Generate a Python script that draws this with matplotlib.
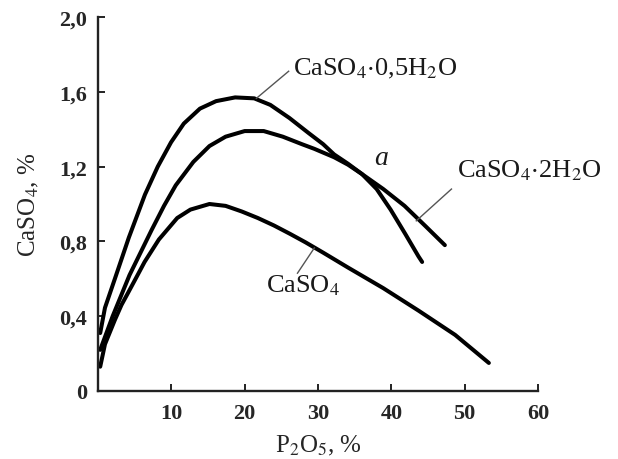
import matplotlib
matplotlib.use("Agg")
import matplotlib.pyplot as plt

# ---- data ----
hemi_x = [0.3, 0.95, 2.3, 4.2, 6.4, 8.15, 9.96, 11.7, 13.9, 16.1, 18.7, 21.3, 23.5, 26.1, 28.7,
          30.7, 32.2, 34.1, 36.0, 38.0, 39.9, 41.9, 43.7, 44.2]
hemi_y = [0.31, 0.445, 0.60, 0.82, 1.05, 1.20, 1.33, 1.43, 1.51, 1.55, 1.57, 1.565, 1.53, 1.46, 1.38,
          1.32, 1.265, 1.215, 1.16, 1.08, 0.97, 0.84, 0.72, 0.69]

dihyd_x = [0.3, 2.0, 4.3, 7.3, 9.0, 10.6, 13.0, 15.2, 17.4, 20.0, 22.6, 25.2, 27.8, 29.5, 32.2,
           34.1, 36.0, 38.9, 41.8, 44.7, 47.3]
dihyd_y = [0.22, 0.40, 0.62, 0.86, 0.99, 1.10, 1.225, 1.31, 1.36, 1.39, 1.39, 1.36, 1.32, 1.295, 1.25,
           1.21, 1.16, 1.08, 0.99, 0.88, 0.78]

anhyd_x = [0.3, 0.95, 2.3, 3.2, 4.1, 5.4, 6.35, 8.3, 10.8, 12.6, 15.2, 17.4, 19.6, 21.8, 24.0,
           26.2, 28.3, 30.7, 34.1, 38.9, 43.7, 48.7, 53.3]
anhyd_y = [0.13, 0.25, 0.38, 0.46, 0.525, 0.62, 0.69, 0.81, 0.925, 0.97, 1.00, 0.99, 0.96, 0.925, 0.885,
           0.84, 0.795, 0.74, 0.66, 0.55, 0.43, 0.30, 0.15]

x_ticks = [10, 20, 30, 40, 50, 60]
x_ticklabels = ["10", "20", "30", "40", "50", "60"]
y_ticks = [0, 0.4, 0.8, 1.2, 1.6, 2.0]
y_ticklabels = ["0", "0,4", "0,8", "1,2", "1,6", "2,0"]

plt.rcParams['font.family'] = ['Liberation Serif', 'DejaVu Serif']
plt.rcParams['mathtext.fontset'] = 'stix'

W, H = 618, 460
fig = plt.figure(figsize=(W / 100, H / 100), dpi=100)
ax = fig.add_axes([98 / W, 1 - 392 / H, (538 - 98) / W, (392 - 18) / H])

lw = 2.9
for xs, ys in [(hemi_x, hemi_y), (dihyd_x, dihyd_y), (anhyd_x, anhyd_y)]:
    ax.plot(xs, ys, color='black', lw=lw, solid_capstyle='round', solid_joinstyle='round')

ax.set_xlim(0, 60)
ax.set_ylim(0, 2.0)
ax.set_xticks(x_ticks)
ax.set_xticklabels(x_ticklabels)
ax.set_yticks(y_ticks)
ax.set_yticklabels(y_ticklabels)
for s in ['top', 'right']:
    ax.spines[s].set_visible(False)
for s in ['left', 'bottom']:
    ax.spines[s].set_linewidth(1.7)
    ax.spines[s].set_color('#222222')
ax.tick_params(direction='in', length=5, width=1.4, colors='#222222', labelsize=16)
ax.tick_params(axis='x', pad=9)
ax.tick_params(axis='y', pad=8)
for lab in ax.get_xticklabels() + ax.get_yticklabels():
    lab.set_fontweight('bold')
    lab.set_color('#262626')

ax.set_xlabel(r'P$_2$O$_5$, %', fontsize=18, color='#262626', labelpad=7)
ax.set_ylabel(r'CaSO$_4$, %', fontsize=18, color='#262626', labelpad=13)

lead = dict(color='#555555', lw=1.0)
ts = 19
# CaSO4*0.5H2O
ax.plot([21.6, 26.0], [1.565, 1.71], **lead)
ax.text(26.6, 1.695, r'CaSO$_4$$\cdot$0,5H$_2$O', fontsize=ts, ha='left', va='baseline', color='#1a1a1a')
# CaSO4*2H2O
ax.plot([43.4, 48.2], [0.91, 1.08], **lead)
ax.text(49.0, 1.15, r'CaSO$_4$$\cdot$2H$_2$O', fontsize=ts, ha='left', va='baseline', color='#1a1a1a')
# CaSO4
ax.plot([29.5, 27.2], [0.765, 0.63], **lead)
ax.text(27.9, 0.535, r'CaSO$_4$', fontsize=ts, ha='center', va='baseline', color='#1a1a1a')
# point a
ax.text(38.6, 1.25, 'a', fontsize=20, style='italic', ha='center', va='center', color='#1a1a1a')

fig.savefig('out.png', dpi=100)
